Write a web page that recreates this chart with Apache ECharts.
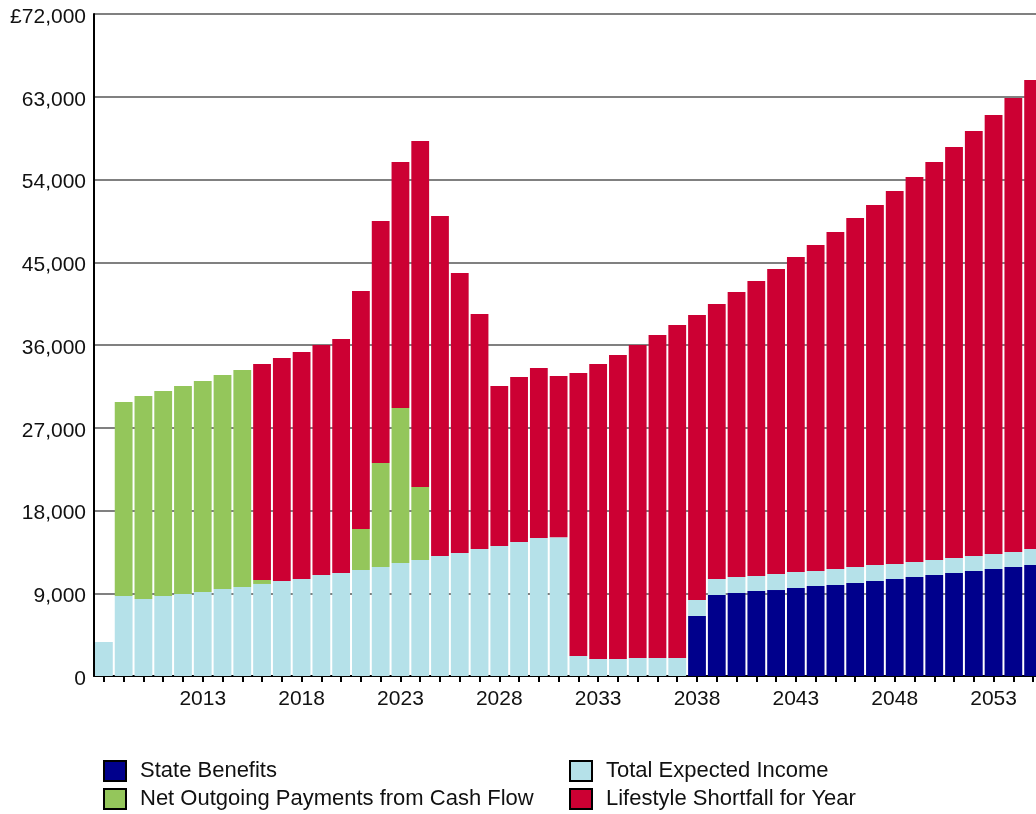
<!DOCTYPE html>
<html>
<head>
<meta charset="utf-8">
<script src="https://cdn.jsdelivr.net/npm/echarts@6/dist/echarts.min.js"></script>
<style>
  html, body { margin: 0; padding: 0; background: #fff; overflow: hidden; }
  #chart { width: 1050px; height: 814px; }
</style>
</head>
<body>
<div id="chart"></div>
<script>
// Projection years (the last bar runs off the right edge of the page)
const years = [
  '2008','2009','2010','2011','2012','2013','2014','2015','2016','2017',
  '2018','2019','2020','2021','2022','2023','2024','2025','2026','2027',
  '2028','2029','2030','2031','2032','2033','2034','2035','2036','2037',
  '2038','2039','2040','2041','2042','2043','2044','2045','2046','2047',
  '2048','2049','2050','2051','2052','2053','2054','2055'
];

// Stack segments, in £ per year
const stateBenefits = [
  0, 0, 0, 0, 0, 0, 0, 0, 0, 0,
  0, 0, 0, 0, 0, 0, 0, 0, 0, 0,
  0, 0, 0, 0, 0, 0, 0, 0, 0, 0,
  6530, 8810, 9030, 9250, 9350, 9570, 9790, 9900, 10120, 10330,
  10550, 10770, 10990, 11200, 11420, 11640, 11860, 12070
];

const totalExpectedIncome = [
  3700, 8700, 8380, 8700, 8920, 9140, 9460, 9680, 10010, 10330,
  10550, 10990, 11200, 11530, 11860, 12290, 12620, 13050, 13380, 13810,
  14140, 14570, 15000, 15100, 2180, 1850, 1850, 1960, 1960, 1960,
  1740, 1740, 1740, 1630, 1740, 1740, 1630, 1740, 1740, 1740,
  1630, 1630, 1630, 1630, 1630, 1630, 1630, 1740
];

const netOutgoingPayments = [
  0, 21100, 22070, 22300, 22620, 22945, 23280, 23600, 430, 0,
  0, 0, 0, 4460, 11305, 16860, 7940, 0, 0, 0,
  0, 0, 0, 0, 0, 0, 0, 0, 0, 0,
  0, 0, 0, 0, 0, 0, 0, 0, 0, 0,
  0, 0, 0, 0, 0, 0, 0, 0
];

const lifestyleShortfall = [
  0, 0, 0, 0, 0, 0, 0, 0, 23490, 24260,
  24690, 25010, 25450, 25880, 26325, 26750, 37630, 36980, 30450, 25560,
  17400, 17950, 18500, 17530, 30770, 32080, 33060, 34040, 35130, 36215,
  30990, 29910, 30990, 32080, 33175, 34260, 35455, 36650, 37950, 39155,
  40570, 41870, 43280, 44700, 46220, 47740, 49370, 51010
];

// Value axis ticks
const yTicks = [0, 9000, 18000, 27000, 36000, 45000, 54000, 63000, 72000];

const FONT = '"Liberation Sans", Arial, Helvetica, sans-serif';
const TEXT = '#111';

const seriesDefs = [
  { name: 'State Benefits', data: stateBenefits, color: '#00008c' },
  { name: 'Total Expected Income', data: totalExpectedIncome, color: '#b5e1e9' },
  { name: 'Net Outgoing Payments from Cash Flow', data: netOutgoingPayments, color: '#94c65b' },
  { name: 'Lifestyle Shortfall for Year', data: lifestyleShortfall, color: '#cc0033' }
];

// Legend key placement: two columns, two rows
const legendSlots = [
  { name: 'State Benefits', left: 103, top: 760 },
  { name: 'Total Expected Income', left: 569, top: 760 },
  { name: 'Net Outgoing Payments from Cash Flow', left: 103, top: 788 },
  { name: 'Lifestyle Shortfall for Year', left: 569, top: 788 }
];

const fmt = v => v.toLocaleString('en-GB');

const chart = echarts.init(document.getElementById('chart'), null, { renderer: 'canvas' });

chart.setOption({
  animation: false,
  backgroundColor: '#fff',
  grid: { left: 94, right: 7, top: 14, bottom: 138, containLabel: false },
  legend: legendSlots.map(slot => ({
    data: [slot.name],
    left: slot.left,
    top: slot.top,
    padding: 0,
    icon: 'rect',
    itemWidth: 22,
    itemHeight: 20,
    itemStyle: { borderColor: '#000', borderWidth: 2 },
    textStyle: { fontFamily: FONT, fontSize: 22, color: TEXT, padding: [3, 0, 0, 9] },
    selectedMode: false
  })),
  xAxis: {
    type: 'category',
    data: years,
    axisLine: { show: true, lineStyle: { color: '#000', width: 2 } },
    axisTick: { show: true, interval: 0, alignWithLabel: true, length: 6, lineStyle: { color: '#000', width: 2 } },
    axisLabel: {
      interval: idx => idx > 0 && idx % 5 === 0,
      fontFamily: FONT, fontSize: 21, color: TEXT, margin: 13
    },
    splitLine: { show: false }
  },
  yAxis: {
    type: 'value',
    min: yTicks[0],
    max: yTicks[yTicks.length - 1],
    interval: yTicks[1] - yTicks[0],
    axisLine: { show: true, lineStyle: { color: '#000', width: 2 } },
    axisTick: { show: false },
    axisLabel: {
      margin: 8,
      formatter: v => '{v|' + (v === yTicks[yTicks.length - 1] ? '£' : '') + fmt(v) + '}',
      rich: {
        v: { fontFamily: FONT, fontSize: 21, color: TEXT, lineHeight: 21, padding: [6, 0, 0, 0] }
      }
    },
    splitLine: { show: true, lineStyle: { color: '#808080', width: 2 } }
  },
  series: seriesDefs.map(s => ({
    name: s.name,
    type: 'bar',
    stack: 'total',
    data: s.data,
    barCategoryGap: '10%',
    itemStyle: { color: s.color },
    emphasis: { disabled: true }
  }))
});
</script>
</body>
</html>
